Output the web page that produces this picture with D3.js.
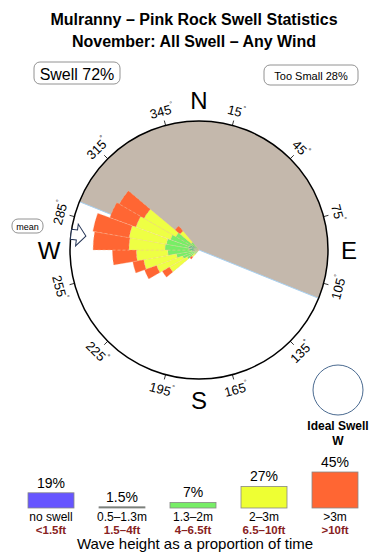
<!DOCTYPE html>
<html>
<head>
<meta charset="utf-8">
<script src="https://cdn.jsdelivr.net/npm/d3@7"></script>
<style>
  body { margin: 0; background: #fff; }
  svg { display: block; font-family: "Liberation Sans", Arial, Helvetica, sans-serif; }
</style>
</head>
<body>
<div class="chart"></div>
<script>
// rose data: 10 degree bins, % of time per wave height band
var directions = [225, 235, 245, 255, 265, 275, 285, 295, 305, 315];
var smallSwell = [0.2, 0.3, 0.4, 0.6, 0.8, 1.1, 1.2, 1.1, 0.8, 0.3];
var midSwell   = [0.4, 1.2, 1.5, 1.9, 2.6, 2.6, 2.4, 2.2, 2.1, 0.8];
var bigSwell   = [0.4, 2.2, 3.0, 3.6, 3.4, 3.9, 4.1, 4.0, 4.0, 1.6];
var hugeSwell  = [0.3, 0.9, 1.4, 1.2, 2.6, 3.9, 4.0, 3.0, 3.1, 0.7];

var tickAngles = [15, 45, 75, 105, 135, 165, 195, 225, 255, 285, 315, 345];
var compass = [['N', 0], ['E', 90], ['S', 180], ['W', 270]];

var legendPct    = [19, 1.5, 7, 27, 45];
var legendPctTxt = ['19%', '1.5%', '7%', '27%', '45%'];
var legendMetres = ['no swell', '0.5\u20131.3m', '1.3\u20132m', '2\u20133m', '>3m'];
var legendFeet   = ['<1.5ft', '1.5\u20134ft', '4\u20136.5ft', '6.5\u201310ft', '>10ft'];
var legendColors = ['#6655ff', '#667766', '#77ee66', '#eeff33', '#ff6633'];

var swellPct = 72, tooSmallPct = 28;
var meanDir = 277;
var shadeFrom = 292, shadeTo = 112;

var width = 390, height = 560;
var cx = 199, cy = 250, R = 129;
var rad = Math.PI / 180;

var svg = d3.select('.chart').append('svg')
  .attr('width', width)
  .attr('height', height);

// titles
svg.append('text').attr('x', 194).attr('y', 25)
  .attr('text-anchor', 'middle').style('font-size', '16px').style('font-weight', 'bold')
  .text('Mulranny \u2013 Pink Rock Swell Statistics');
svg.append('text').attr('x', 194).attr('y', 47)
  .attr('text-anchor', 'middle').style('font-size', '16px').style('font-weight', 'bold')
  .text('November: All Swell \u2013 Any Wind');

var labelBox = function (x, y, w, h, txt, size) {
  svg.append('rect').attr('x', x).attr('y', y).attr('width', w).attr('height', h)
    .attr('rx', 6).attr('fill', 'white').attr('stroke', '#777').attr('stroke-width', 0.8);
  svg.append('text').attr('x', x + w / 2).attr('y', y + h / 2 + 1)
    .attr('text-anchor', 'middle').attr('dominant-baseline', 'central')
    .style('font-size', size + 'px')
    .text(txt);
};
labelBox(34, 62, 86, 22, 'Swell ' + swellPct + '%', 16);
labelBox(264, 65, 94, 20, 'Too Small ' + tooSmallPct + '%', 11);
labelBox(12, 219, 31, 14, 'mean', 9);

var g = svg.append('g').attr('transform', 'translate(' + cx + ',' + cy + ')');

var r = d3.scaleLinear().domain([0, 14]).range([0, R]);

// shaded (blocked) half
g.append('path')
  .attr('d', d3.arc().innerRadius(0).outerRadius(R)
    .startAngle((shadeFrom - 360) * rad).endAngle(shadeTo * rad)())
  .attr('fill', '#c4b8ac');
g.append('line')
  .attr('x1', R * Math.sin(shadeFrom * rad)).attr('y1', -R * Math.cos(shadeFrom * rad))
  .attr('x2', R * Math.sin(shadeTo * rad)).attr('y2', -R * Math.cos(shadeTo * rad))
  .attr('stroke', '#a8d0f0').attr('stroke-width', 1);

// stacked rose bars
var rows = directions.map(function (d, i) {
  return { dir: d, small: smallSwell[i], mid: midSwell[i], big: bigSwell[i], huge: hugeSwell[i] };
});
var keys = ['small', 'mid', 'big', 'huge'];
var fills = { small: '#5fbf85', mid: '#77ee66', big: '#eeff44', huge: '#ff6633' };
var stack = d3.stack().keys(keys)(rows);
var arc = d3.arc();

g.selectAll('g.layer')
  .data(stack)
  .enter()
  .append('g')
  .classed('layer', true)
  .attr('fill', function (d) { return fills[d.key]; })
  .selectAll('path')
  .data(function (d) { return d; })
  .enter()
  .append('path')
  .attr('d', function (d) {
    return arc({
      innerRadius: r(d[0]), outerRadius: r(d[1]),
      startAngle: (d.data.dir - 5) * rad, endAngle: (d.data.dir + 5) * rad
    });
  })
  .attr('stroke', '#f4c0a0')
  .attr('stroke-width', 0.4)
  .attr('stroke-dasharray', '3,2');

// outer circle + ticks
g.append('circle').attr('r', R).attr('fill', 'none').attr('stroke', 'black').attr('stroke-width', 1.5);

g.selectAll('line.tick')
  .data(tickAngles)
  .enter()
  .append('line')
  .classed('tick', true)
  .attr('x1', function (d) { return R * Math.sin(d * rad); })
  .attr('y1', function (d) { return -R * Math.cos(d * rad); })
  .attr('x2', function (d) { return (R + 5) * Math.sin(d * rad); })
  .attr('y2', function (d) { return -(R + 5) * Math.cos(d * rad); })
  .attr('stroke', 'black').attr('stroke-width', 0.8);

var tickLabels = g.selectAll('text.tl')
  .data(tickAngles)
  .enter()
  .append('text')
  .classed('tl', true)
  .attr('text-anchor', 'middle')
  .attr('dominant-baseline', 'central')
  .style('font-size', '13px')
  .attr('transform', function (d) {
    var x = 144 * Math.sin(d * rad), y = -144 * Math.cos(d * rad);
    var rot = (d > 90 && d < 270) ? d - 180 : (d >= 270 ? d - 360 : d);
    return 'translate(' + x + ',' + y + ') rotate(' + rot + ')';
  });
tickLabels.append('tspan').text(function (d) { return d; });
tickLabels.append('tspan').attr('dy', -5).style('font-size', '7px').text('\u00b0');

g.selectAll('text.cmp')
  .data(compass)
  .enter()
  .append('text')
  .classed('cmp', true)
  .attr('x', function (d) { return 150 * Math.sin(d[1] * rad); })
  .attr('y', function (d) { return -150 * Math.cos(d[1] * rad); })
  .attr('text-anchor', 'middle')
  .attr('dominant-baseline', 'central')
  .style('font-size', '24px')
  .text(function (d) { return d[0]; });

// mean direction arrow
g.append('path')
  .attr('d', 'M0,-114 L11,-123 L5,-123 L5,-129 L-5,-129 L-5,-123 L-11,-123 Z')
  .attr('transform', 'rotate(' + meanDir + ')')
  .attr('fill', 'white').attr('stroke', '#223355').attr('stroke-width', 1);

// ideal swell
svg.append('circle').attr('cx', 338).attr('cy', 390).attr('r', 25)
  .attr('fill', 'none').attr('stroke', '#4a6a90').attr('stroke-width', 1);
svg.append('text').attr('x', 338).attr('y', 430).attr('text-anchor', 'middle')
  .style('font-size', '12px').style('font-weight', 'bold').text('Ideal Swell');
svg.append('text').attr('x', 338).attr('y', 445).attr('text-anchor', 'middle')
  .style('font-size', '12px').style('font-weight', 'bold').text('W');

// legend bars
var lx = d3.scalePoint().domain(d3.range(legendPct.length)).range([51, 335]);
var lh = d3.scaleLinear().domain([0, 45]).range([0, 36]);
var baseY = 508, boxW = 46;

var leg = svg.selectAll('g.leg')
  .data(legendPct)
  .enter()
  .append('g')
  .classed('leg', true)
  .attr('transform', function (d, i) { return 'translate(' + lx(i) + ',0)'; });

leg.append('rect')
  .attr('x', -boxW / 2)
  .attr('y', function (d) { return baseY - Math.max(lh(d), 1); })
  .attr('width', boxW)
  .attr('height', function (d) { return Math.max(lh(d), 1); })
  .attr('fill', function (d, i) { return legendColors[i]; })
  .attr('stroke', '#888').attr('stroke-width', 0.8);

leg.append('text')
  .attr('y', function (d) { return baseY - Math.max(lh(d), 1) - 5; })
  .attr('text-anchor', 'middle')
  .style('font-size', '14px')
  .text(function (d, i) { return legendPctTxt[i]; });

leg.append('text')
  .attr('y', 521)
  .attr('text-anchor', 'middle')
  .style('font-size', '12px')
  .text(function (d, i) { return legendMetres[i]; });

leg.append('text')
  .attr('y', 534)
  .attr('text-anchor', 'middle')
  .style('font-size', '11.5px')
  .style('font-weight', 'bold')
  .attr('fill', '#882222')
  .text(function (d, i) { return legendFeet[i]; });

svg.append('text').attr('x', 195).attr('y', 549).attr('text-anchor', 'middle')
  .style('font-size', '15px')
  .text('Wave height as a proportion of time');
</script>
</body>
</html>
